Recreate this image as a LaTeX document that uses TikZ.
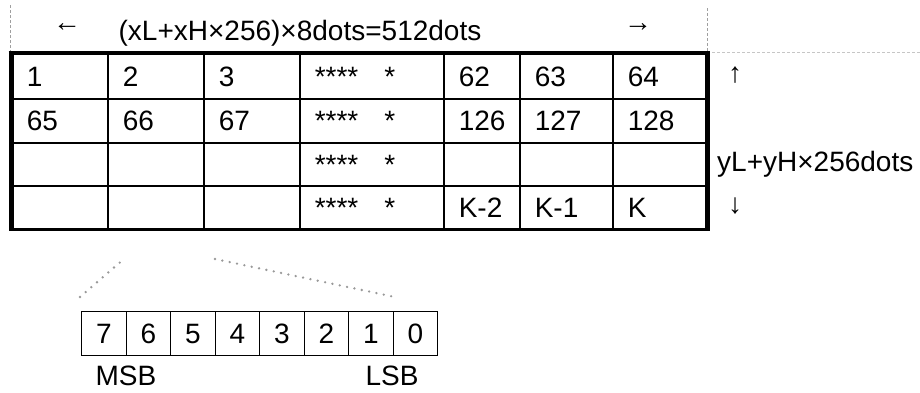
\documentclass[tikz,border=0pt]{standalone}
\usepackage{fontspec}
\setmainfont{Liberation Sans}
\newcommand\mycell[6]{%
  \pgfmathsetmacro\mytw{#4-30}%
  \node[cell, text width=\mytw pt, minimum height=#5 pt] (#1) at (#2,#3) {#6};}
\newcommand\stars{****\hspace{26pt}*}
\begin{document}
\begin{tikzpicture}[x=1pt,y=-1pt, font=\fontsize{28}{32}\selectfont,
  cell/.style={draw, line width=1.5pt, anchor=north west, inner ysep=0pt, inner xsep=15pt, align=left, text height=20pt, text depth=0pt},
  bitbox/.style={draw, line width=1.3pt, anchor=north west, inner sep=0pt, minimum width=44.5pt, minimum height=44pt, text height=20pt, text depth=0pt},
  thickedge/.style={line width=5pt},
  guide/.style={draw=gray!75, line width=1pt, dash pattern=on 3pt off 2pt},
  dotline/.style={draw=gray!80, line width=2.6pt, line cap=round, dash pattern=on 0pt off 7.5pt},
  lbl/.style={inner sep=0pt}]
\useasboundingbox (0,0) rectangle (920,392);
% row 1
\mycell{a1}{11}{53}{96}{45}{1}
\mycell{a2}{107}{53}{96}{45}{2}
\mycell{a3}{203}{53}{96}{45}{3}
\mycell{a4}{299}{53}{144}{45}{\stars}
\mycell{a5}{443}{53}{76}{45}{62}
\mycell{a6}{519}{53}{93}{45}{63}
\mycell{a7}{612}{53}{94}{45}{64}
% row 2
\mycell{b1}{11}{98}{96}{44}{65}
\mycell{b2}{107}{98}{96}{44}{66}
\mycell{b3}{203}{98}{96}{44}{67}
\mycell{b4}{299}{98}{144}{44}{\stars}
\mycell{b5}{443}{98}{76}{44}{126}
\mycell{b6}{519}{98}{93}{44}{127}
\mycell{b7}{612}{98}{94}{44}{128}
% row 3
\mycell{c1}{11}{142}{96}{43}{}
\mycell{c2}{107}{142}{96}{43}{}
\mycell{c3}{203}{142}{96}{43}{}
\mycell{c4}{299}{142}{144}{43}{\stars}
\mycell{c5}{443}{142}{76}{43}{}
\mycell{c6}{519}{142}{93}{43}{}
\mycell{c7}{612}{142}{94}{43}{}
% row 4
\mycell{d1}{11}{185}{96}{43}{}
\mycell{d2}{107}{185}{96}{43}{}
\mycell{d3}{203}{185}{96}{43}{}
\mycell{d4}{299}{185}{144}{43}{\stars}
\mycell{d5}{443}{185}{76}{43}{K-2}
\mycell{d6}{519}{185}{93}{43}{K-1}
\mycell{d7}{612}{185}{94}{43}{K}
% thick outer border
\draw[thickedge] ([yshift=2pt]a1.north west) -- ([yshift=-1pt]d1.south west);
\draw[thickedge] ([yshift=2pt]a7.north east) -- ([yshift=-1pt]d7.south east);
\draw[line width=4pt] ([xshift=-2.5pt]a1.north west) -- ([xshift=2.5pt]a7.north east);
\draw[line width=2pt] (d1.south west) -- (d7.south east);
% guides
\coordinate (gl1) at (10,5); \coordinate (gl2) at (10,51);
\coordinate (gr1) at (707,8); \coordinate (gr2) at (707,51);
\coordinate (gh1) at (712,52); \coordinate (gh2) at (920,52);
\draw[guide] (gl1) -- (gl2);
\draw[guide] (gr1) -- (gr2);
\draw[guide, draw=gray!45] (gh1) -- (gh2);
% header
\node[lbl] (larr) at (67,28) {←};
\node[lbl, anchor=base] (wtxt) at (300,40) {(xL+xH×256)×8dots=512dots};
\node[lbl] (rarr) at (638,28) {→};
% right side
\node[lbl] (uarr) at (735,75) {↑};
\node[lbl, anchor=west] (htxt) at (717,164) {yL+yH×256dots};
\node[lbl] (darr) at (735,206) {↓};
% bits
\foreach \i/\b in {0/7,1/6,2/5,3/4,4/3,5/2,6/1,7/0} {
  \node[bitbox] (bit\b) at ({81+\i*44.5},311) {\b};
}
\node[lbl] (msb) at (126,376) {MSB};
\node[lbl] (lsb) at (392,376) {LSB};
\coordinate (p1) at (80,297); \coordinate (p2) at (125,258);
\coordinate (p3) at (215,259); \coordinate (p4) at (395,297);
\draw[dotline] (p1) -- (p2);
\draw[dotline] (p3) -- (p4);
\end{tikzpicture}
\end{document}
